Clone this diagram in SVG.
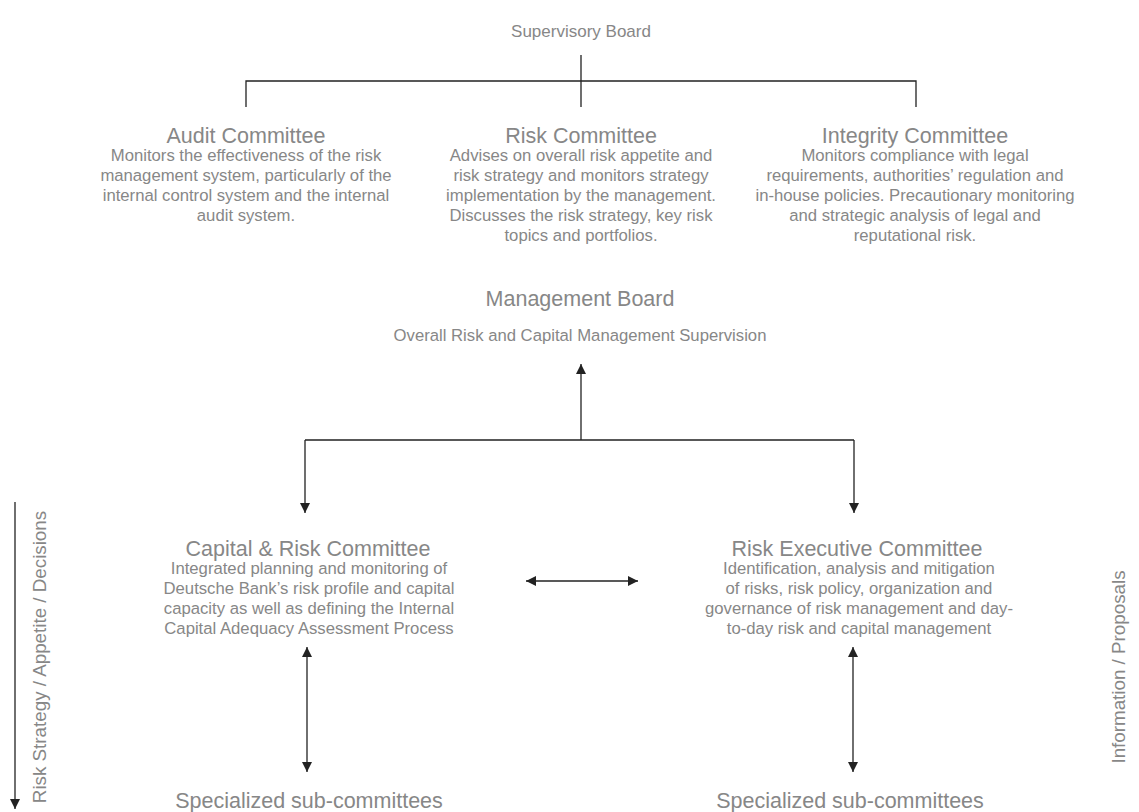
<svg xmlns="http://www.w3.org/2000/svg" width="1139" height="812" viewBox="0 0 1139 812">
<defs>
<style>
text{font-family:"Liberation Sans",Arial,sans-serif;fill:#878787;text-anchor:middle}
.t{font-size:21.5px}
.b{font-size:16.7px}
.v{font-size:18.8px}
.c{stroke:#222;stroke-width:1.3;fill:none}
</style>
<marker id="ah" viewBox="0 0 10 10" refX="10" refY="5" markerWidth="10" markerHeight="11" markerUnits="userSpaceOnUse" orient="auto-start-reverse"><path d="M0,0 L10,5 L0,10 z" fill="#222"/></marker>
</defs>
<rect width="1139" height="812" fill="#fff"/>
<g id="connectors">
<path class="c" d="M581,55 V107 M246,107 V81 H916 V107"/>
<path class="c" d="M581,440 V364" marker-end="url(#ah)"/>
<path class="c" d="M305,440 H854 M305,440 V513" marker-end="url(#ah)"/>
<path class="c" d="M854,440 V513" marker-end="url(#ah)"/>
<path class="c" d="M526,581 H638" marker-start="url(#ah)" marker-end="url(#ah)"/>
<path class="c" d="M307,647 V772" marker-start="url(#ah)" marker-end="url(#ah)"/>
<path class="c" d="M853,647 V772" marker-start="url(#ah)" marker-end="url(#ah)"/>
<path class="c" d="M15,502 V809" marker-end="url(#ah)"/>
</g>
<g id="supervisory-board"><text x="581" y="37" style="font-size:17px">Supervisory Board</text></g>
<g id="audit-committee">
<text class="t" x="246" y="143">Audit Committee</text>
<text class="b" x="246" y="161">Monitors the effectiveness of the risk</text>
<text class="b" x="246" y="181">management system, particularly of the</text>
<text class="b" x="246" y="201">internal control system and the internal</text>
<text class="b" x="246" y="221">audit system.</text>
</g>
<g id="risk-committee">
<text class="t" x="581" y="143">Risk Committee</text>
<text class="b" x="581" y="161">Advises on overall risk appetite and</text>
<text class="b" x="581" y="181">risk strategy and monitors strategy</text>
<text class="b" x="581" y="201">implementation by the management.</text>
<text class="b" x="581" y="221">Discusses the risk strategy, key risk</text>
<text class="b" x="581" y="241">topics and portfolios.</text>
</g>
<g id="integrity-committee">
<text class="t" x="915" y="143">Integrity Committee</text>
<text class="b" x="915" y="161">Monitors compliance with legal</text>
<text class="b" x="915" y="181">requirements, authorities’ regulation and</text>
<text class="b" x="915" y="201">in-house policies. Precautionary monitoring</text>
<text class="b" x="915" y="221">and strategic analysis of legal and</text>
<text class="b" x="915" y="241">reputational risk.</text>
</g>
<g id="management-board">
<text class="t" x="580" y="306">Management Board</text>
<text class="b" x="580" y="341">Overall Risk and Capital Management Supervision</text>
</g>
<g id="capital-risk-committee">
<text class="t" x="308" y="556">Capital &amp; Risk Committee</text>
<text class="b" x="309" y="574">Integrated planning and monitoring of</text>
<text class="b" x="309" y="594">Deutsche Bank’s risk profile and capital</text>
<text class="b" x="309" y="614">capacity as well as defining the Internal</text>
<text class="b" x="309" y="634">Capital Adequacy Assessment Process</text>
</g>
<g id="risk-executive-committee">
<text class="t" x="857" y="556">Risk Executive Committee</text>
<text class="b" x="859" y="574">Identification, analysis and mitigation</text>
<text class="b" x="859" y="594">of risks, risk policy, organization and</text>
<text class="b" x="859" y="614">governance of risk management and day-</text>
<text class="b" x="859" y="634">to-day risk and capital management</text>
</g>
<g id="sub-committees-left"><text class="t" x="309" y="808">Specialized sub-committees</text></g>
<g id="sub-committees-right"><text class="t" x="850" y="808">Specialized sub-committees</text></g>
<g id="label-left"><text class="v" transform="translate(46,657) rotate(-90)">Risk Strategy / Appetite / Decisions</text></g>
<g id="label-right"><text class="v" transform="translate(1125,667) rotate(-90)">Information / Proposals</text></g>
</svg>
